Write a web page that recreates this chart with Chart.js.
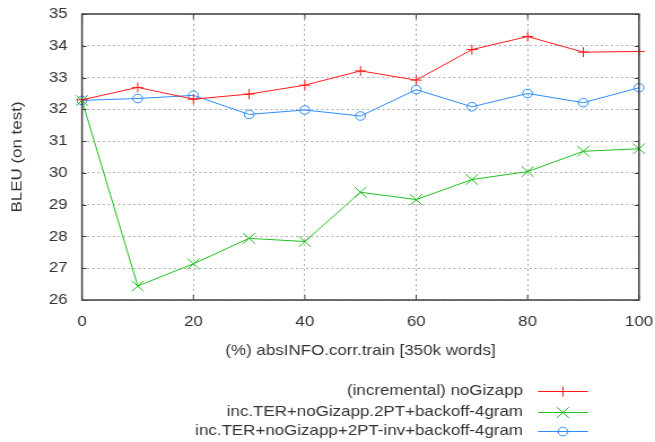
<!DOCTYPE html>
<html>
<head>
<meta charset="utf-8">
<script src="https://cdn.jsdelivr.net/npm/chart.js@4"></script>
<style>
html,body{margin:0;padding:0;background:#fff;}
#wrap{width:655px;height:442px;position:relative;overflow:hidden;}
#c{display:block;width:655px;height:442px;}
</style>
</head>
<body>
<div id="wrap"><canvas id="c" width="580" height="442" style="width:655px;height:442px;"></canvas></div>
<script>
const xValues = [0, 10, 20, 30, 40, 50, 60, 70, 80, 90, 100];
const seriesNames = [
  "(incremental) noGizapp",
  "inc.TER+noGizapp.2PT+backoff-4gram",
  "inc.TER+noGizapp+2PT-inv+backoff-4gram"
];
const redValues   = [32.30, 32.69, 32.32, 32.48, 32.76, 33.21, 32.92, 33.88, 34.29, 33.80, 33.82];
const greenValues = [32.28, 26.44, 27.14, 27.94, 27.84, 29.39, 29.16, 29.79, 30.04, 30.68, 30.76];
const blueValues  = [32.28, 32.34, 32.44, 31.84, 31.98, 31.79, 32.62, 32.08, 32.50, 32.21, 32.68];
const xTicks = [0, 20, 40, 60, 80, 100];
const yTicks = [26, 27, 28, 29, 30, 31, 32, 33, 34, 35];
const xTitle = '(%) absINFO.corr.train [350k words]';
const yTitle = 'BLEU (on test)';

const FONT = "'Liberation Sans', Arial, sans-serif";
const FS = 15;
const TXT = '#333333';
const AXIS = '#404040';
const SX = 655 / 580; // horizontal stretch of the picture

function pts(vals){ return xValues.map((x,i)=>({x:x, y:vals[i]})); }

const styles = [
  {color:'#ff1a1a', pointStyle:'cross', radius:5},
  {color:'#1fbf1f', pointStyle:'crossRot', radius:7.5},
  {color:'#2b8cff', pointStyle:'circle', radius:4.3}
];

const frame = {
  id:'frame',
  afterDraw(chart){
    const {ctx, chartArea:a, scales} = chart;
    ctx.save();
    ctx.strokeStyle = AXIS;
    ctx.lineWidth = 1.5;
    ctx.strokeRect(a.left, a.top, a.right-a.left, a.bottom-a.top);
    ctx.lineWidth = 1;
    ctx.beginPath();
    yTicks.forEach(v=>{
      const y = Math.round(scales.y.getPixelForValue(v))+0.5;
      ctx.moveTo(a.left, y); ctx.lineTo(a.left+4, y);
      ctx.moveTo(a.right, y); ctx.lineTo(a.right-4, y);
    });
    xTicks.forEach(v=>{
      const x = scales.x.getPixelForValue(v);
      ctx.moveTo(x, a.bottom); ctx.lineTo(x, a.bottom-5);
      ctx.moveTo(x, a.top); ctx.lineTo(x, a.top+5);
    });
    ctx.stroke();

    // y axis title (rotated, drawn so its proportions match the horizontal texts)
    ctx.save();
    ctx.translate(17.5 / SX, (a.top + a.bottom) / 2);
    ctx.rotate(-Math.PI / 2);
    ctx.scale(SX, 1 / SX);
    ctx.font = FS + "px " + FONT;
    ctx.fillStyle = TXT;
    ctx.textAlign = 'center';
    ctx.textBaseline = 'middle';
    ctx.fillText(yTitle, 0, 0);
    ctx.restore();

    // legend
    const rows = [390.7, 411.5, 431];
    const textRight = 523 / SX, lineL = 538 / SX, lineR = 588 / SX, mark = 563 / SX;
    ctx.font = FS + "px " + FONT;
    ctx.textAlign = 'right';
    ctx.textBaseline = 'middle';
    chart.data.datasets.forEach((ds,i)=>{
      const y = rows[i];
      ctx.fillStyle = TXT;
      ctx.fillText(ds.label, textRight, y);
      ctx.strokeStyle = ds.borderColor;
      ctx.lineWidth = 1;
      ctx.beginPath();
      ctx.moveTo(lineL, Math.round(y)+0.5); ctx.lineTo(lineR, Math.round(y)+0.5);
      ctx.stroke();
      ctx.fillStyle = 'rgba(0,0,0,0)';
      Chart.helpers.drawPoint(ctx, {pointStyle: ds.pointStyle, radius: ds.pointRadius, borderWidth:1, rotation:0}, mark, Math.round(y)+0.5);
    });
    ctx.restore();
  }
};

new Chart(document.getElementById('c'), {
  type:'line',
  data:{
    datasets:[redValues, greenValues, blueValues].map((vals,i)=>({
      label: seriesNames[i],
      data: pts(vals),
      borderColor: styles[i].color,
      backgroundColor: 'rgba(0,0,0,0)',
      borderWidth: 1,
      pointStyle: styles[i].pointStyle,
      pointRadius: styles[i].radius,
      pointBorderWidth: 1,
      pointBorderColor: styles[i].color,
      pointBackgroundColor: 'rgba(0,0,0,0)',
      tension: 0,
      clip: false
    }))
  },
  options:{
    responsive:false,
    animation:false,
    events:[],
    layout:{padding:{top:14, right:16 / SX, bottom:77, left:0}},
    plugins:{legend:{display:false}, tooltip:{enabled:false}},
    scales:{
      x:{
        type:'linear', min:0, max:100,
        afterBuildTicks(s){ s.ticks = xTicks.map(v=>({value:v})); },
        afterFit(s){ s.height = 65; s.paddingLeft = 0; s.paddingRight = 0; },
        grid:{color:'#a8a8a8', drawTicks:false, lineWidth:1},
        border:{display:false, dash:[2,3]},
        ticks:{color:TXT, font:{family:FONT, size:FS}, padding:13, maxRotation:0},
        title:{display:true, text:xTitle, color:TXT, font:{family:FONT, size:FS}, padding:{top:0,bottom:5}}
      },
      y:{
        type:'linear', min:26, max:35,
        afterBuildTicks(s){ s.ticks = yTicks.map(v=>({value:v})); },
        afterFit(s){ s.width = 82 / SX; s.paddingTop = 0; s.paddingBottom = 0; },
        grid:{color:'#a8a8a8', drawTicks:false, lineWidth:1},
        border:{display:false, dash:[1.8,2.7]},
        ticks:{color:TXT, font:{family:FONT, size:FS}, padding:12.7},
        title:{display:false}
      }
    }
  },
  plugins:[frame]
});
</script>
</body>
</html>
